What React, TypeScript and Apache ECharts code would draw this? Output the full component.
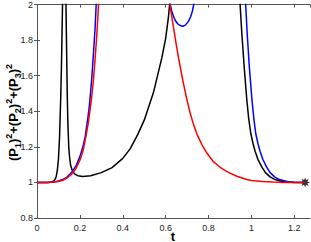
import React, { useEffect, useRef } from "react";
import * as echarts from "echarts";

// ---- data ----
const xTicksMax = 1.273;
const yMin = 0.8;
const yMax = 2;

const blackT = [0, 0.05, 0.07, 0.08, 0.085, 0.09, 0.095, 0.1, 0.105, 0.11, 0.114, 0.119, 0.127, 0.135, 0.138, 0.141, 0.144, 0.148, 0.152, 0.157, 0.165, 0.175, 0.19, 0.214, 0.25, 0.3, 0.35, 0.4, 0.435, 0.47, 0.5, 0.543, 0.582, 0.6, 0.613, 0.62, 0.63, 0.8, 0.94, 0.947, 0.955, 0.966, 0.978, 0.987, 0.997, 1.007, 1.017, 1.03, 1.048, 1.065, 1.087, 1.11, 1.149, 1.2, 1.25];
const blackP = [1, 1, 1.003, 1.01, 1.02, 1.035, 1.07, 1.13, 1.25, 1.45, 1.65, 2.0, 3.5, 2.0, 1.75, 1.5, 1.33, 1.2, 1.14, 1.095, 1.065, 1.048, 1.038, 1.033, 1.037, 1.055, 1.083, 1.135, 1.19, 1.27, 1.35, 1.505, 1.7, 1.81, 1.93, 2.02, 3, 6, 3, 2.0, 1.84, 1.65, 1.47, 1.36, 1.275, 1.22, 1.175, 1.13, 1.087, 1.055, 1.031, 1.016, 1.004, 1.0, 1.0];

const blueT = [0, 0.05, 0.08, 0.1, 0.12, 0.14, 0.152, 0.165, 0.183, 0.2, 0.214, 0.225, 0.237, 0.245, 0.255, 0.264, 0.271, 0.276, 0.29, 0.45, 0.61, 0.621, 0.628, 0.636, 0.645, 0.655, 0.667, 0.68, 0.692, 0.706, 0.716, 0.724, 0.731, 0.74, 0.85, 0.965, 0.973, 0.98, 0.99, 1.002, 1.011, 1.02, 1.03, 1.04, 1.053, 1.07, 1.087, 1.108, 1.13, 1.17, 1.2, 1.25];
const blueP = [1, 1, 1.002, 1.008, 1.016, 1.03, 1.045, 1.062, 1.096, 1.145, 1.2, 1.26, 1.36, 1.44, 1.58, 1.739, 1.87, 2.0, 3, 5, 3, 2.0, 1.965, 1.935, 1.91, 1.893, 1.882, 1.878, 1.884, 1.905, 1.93, 1.96, 2.0, 2.6, 5, 2.6, 2.0, 1.84, 1.65, 1.47, 1.36, 1.275, 1.22, 1.175, 1.13, 1.087, 1.055, 1.031, 1.016, 1.004, 1.001, 1.0];

const redT = [0, 0.05, 0.1, 0.12, 0.14, 0.16, 0.18, 0.2, 0.215, 0.23, 0.24, 0.253, 0.262, 0.27, 0.279, 0.287, 0.3, 0.45, 0.61, 0.62, 0.63, 0.64, 0.65, 0.66, 0.67, 0.683, 0.7, 0.714, 0.73, 0.745, 0.77, 0.792, 0.82, 0.854, 0.88, 0.9, 0.932, 0.96, 0.978, 1.0, 1.05, 1.1, 1.15, 1.25];
const redP = [1, 1, 1.005, 1.012, 1.025, 1.045, 1.075, 1.125, 1.18, 1.27, 1.34, 1.46, 1.56, 1.68, 1.83, 2.0, 3, 5, 3, 2.0, 1.92, 1.845, 1.77, 1.7, 1.635, 1.555, 1.46, 1.39, 1.325, 1.273, 1.21, 1.165, 1.12, 1.085, 1.065, 1.052, 1.035, 1.023, 1.016, 1.011, 1.005, 1.002, 1.0, 1.0];

const endPoint = [1.25, 1.0];

const FONT = "'Liberation Sans', Arial, Helvetica, sans-serif";

function zip(t: number[], p: number[]) {
  return t.map((v, i) => [v, p[i]]);
}

function starPath() {
  let d = "";
  for (let i = 0; i < 16; i++) {
    const r = i % 2 ? 0.5 : 1;
    const a = (i * Math.PI) / 8 - Math.PI / 2;
    const x = 50 + 50 * r * Math.cos(a);
    const y = 50 + 50 * r * Math.sin(a);
    d += (i ? "L" : "M") + x.toFixed(2) + " " + y.toFixed(2);
  }
  return "path://" + d + "Z";
}

function measure(text: string, size: number) {
  const c = document.createElement("canvas").getContext("2d");
  if (!c) return text.length * size * 0.6;
  c.font = `bold ${size}px ${FONT}`;
  return c.measureText(text).width;
}

function yLabelGroup() {
  const main = 13;
  const small = 9;
  const parts: { t: string; k: "m" | "sub" | "sup" }[] = [
    { t: "(P", k: "m" }, { t: "1", k: "sub" }, { t: ")", k: "m" }, { t: "2", k: "sup" },
    { t: "+(P", k: "m" }, { t: "2", k: "sub" }, { t: ")", k: "m" }, { t: "2", k: "sup" },
    { t: "+(P", k: "m" }, { t: "3", k: "sub" }, { t: ")", k: "m" }, { t: "2", k: "sup" },
  ];
  const widths = parts.map((p) => measure(p.t, p.k === "m" ? main : small));
  const total = widths.reduce((a, b) => a + b, 0);
  let x = -total / 2;
  const children: any[] = [];
  parts.forEach((p, i) => {
    children.push({
      type: "text",
      x,
      y: p.k === "m" ? 0 : p.k === "sub" ? 4.5 : -5,
      style: {
        text: p.t,
        fontSize: p.k === "m" ? main : small,
        fontWeight: "bold",
        fontFamily: FONT,
        fill: "#000",
        textAlign: "left",
        textVerticalAlign: "middle",
      },
    });
    x += widths[i];
  });
  return { type: "group", x: 13.5, y: 112.5, rotation: Math.PI / 2, children };
}

export default function App() {
  const ref = useRef<HTMLDivElement>(null);
  useEffect(() => {
    if (!ref.current) return;
    const chart = echarts.init(ref.current, undefined, { renderer: "svg" });
    const axisColor = "#555";
    const xCommon = {
      type: "value",
      min: 0,
      max: xTicksMax,
      interval: 0.2,
      splitLine: { show: false },
      axisLine: { show: true, lineStyle: { color: axisColor, width: 1 } },
      axisTick: { show: true, inside: true, length: 3, lineStyle: { color: axisColor } },
    };
    const yCommon = {
      type: "value",
      min: yMin,
      max: yMax,
      interval: 0.2,
      splitLine: { show: false },
      axisLine: { show: true, lineStyle: { color: axisColor, width: 1 } },
      axisTick: { show: true, inside: true, length: 3, lineStyle: { color: axisColor } },
    };
    const lineSeries = (data: number[][], color: string) => ({
      type: "line",
      data,
      showSymbol: false,
      symbol: "none",
      smooth: false,
      clip: true,
      lineStyle: { color, width: 1.5 },
      silent: true,
    });
    chart.setOption({
      animation: false,
      grid: { left: 37, right: 1, top: 3, bottom: 24, show: false },
      xAxis: [
        {
          ...xCommon,
          position: "bottom",
          axisLabel: { show: true, fontSize: 9, color: "#222", margin: 5, fontFamily: FONT, showMaxLabel: false },
        },
        { ...xCommon, position: "top", axisLabel: { show: false } },
      ],
      yAxis: [
        {
          ...yCommon,
          position: "left",
          axisLabel: { show: true, fontSize: 9, color: "#222", margin: 4, fontFamily: FONT },
        },
        { ...yCommon, position: "right", axisLabel: { show: false } },
      ],
      series: [
        lineSeries(zip(blackT, blackP), "#000000"),
        lineSeries(zip(blueT, blueP), "#0000ff"),
        lineSeries(zip(redT, redP), "#ff0000"),
        {
          type: "scatter",
          data: [endPoint],
          symbol: starPath(),
          symbolSize: 10,
          itemStyle: { color: "#000" },
          silent: true,
        },
      ],
      graphic: [
        yLabelGroup(),
        {
          type: "text",
          x: 173,
          y: 236,
          style: {
            text: "t",
            fontSize: 13,
            fontWeight: "bold",
            fontFamily: FONT,
            fill: "#000",
            textAlign: "center",
            textVerticalAlign: "middle",
          },
        },
      ],
    });
    return () => chart.dispose();
  }, []);
  return <div ref={ref} style={{ position: "absolute", left: 0, top: 0, width: 311, height: 242 }} />;
}
